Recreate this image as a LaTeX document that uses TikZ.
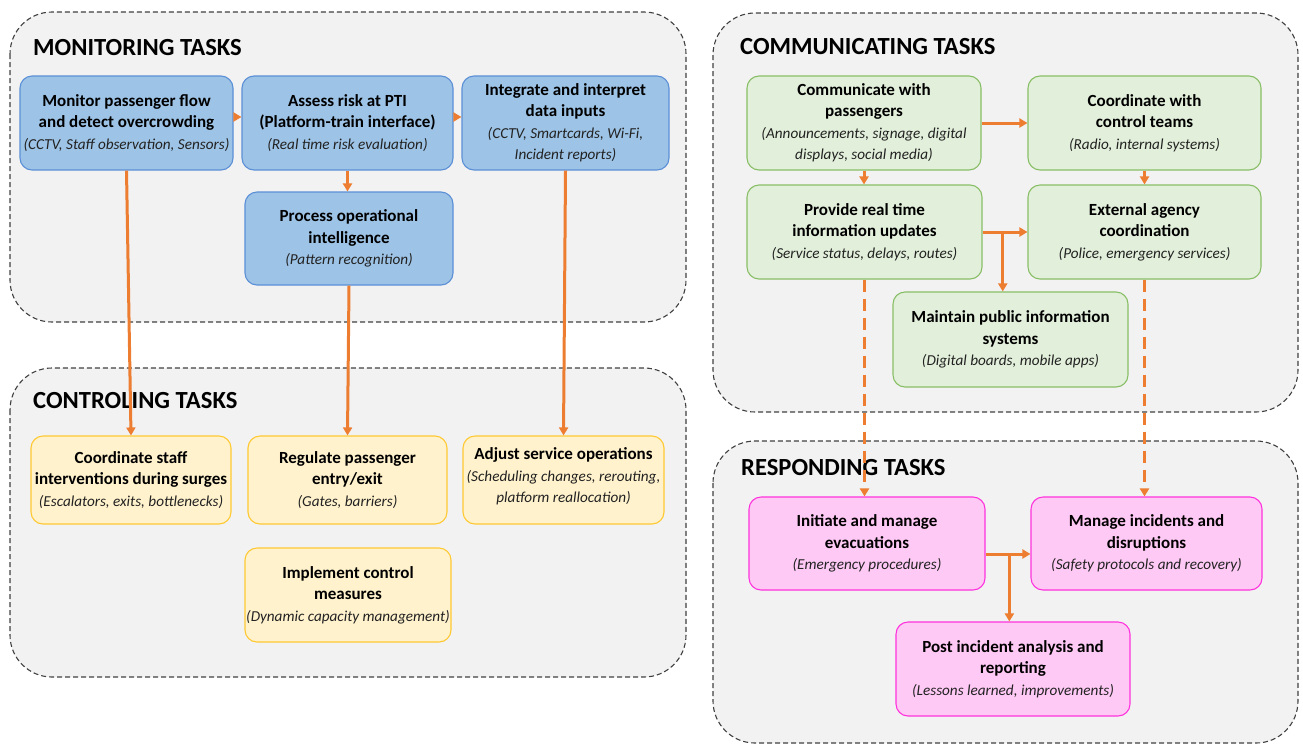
\documentclass[tikz,border=0pt]{standalone}
\usepackage{fontspec}
\setmainfont{Carlito}
\usetikzlibrary{arrows.meta,calc}

\definecolor{panelgray}{HTML}{F2F2F2}
\definecolor{panelline}{HTML}{404040}
\definecolor{blueF}{HTML}{9DC3E6}
\definecolor{blueD}{HTML}{5B8FD6}
\definecolor{yellowF}{HTML}{FFF2CC}
\definecolor{yellowD}{HTML}{FFC933}
\definecolor{greenF}{HTML}{E2EFDA}
\definecolor{greenD}{HTML}{88BE66}
\definecolor{pinkF}{HTML}{FFC9F5}
\definecolor{pinkD}{HTML}{FF33DD}
\definecolor{flow}{HTML}{ED7D31}
\definecolor{detailgray}{HTML}{222222}

\newcommand\detail[1]{{\fontsize{15.2}{20}\selectfont\mdseries\itshape\color{detailgray}#1}}

\begin{document}
\begin{tikzpicture}[x=1pt,y=-1pt,
  panel/.style={draw=panelline, fill=panelgray, line width=1.1pt,
    dash pattern=on 5pt off 3pt, rounded corners=42pt},
  paneltitle/.style={anchor=base west, inner sep=0pt,
    font=\fontsize{24.6}{28}\selectfont\bfseries},
  taskbox/.style={rectangle, rounded corners=12pt, line width=1.1pt,
    align=center, inner sep=0pt,
    font=\fontsize{17}{21.5}\selectfont\bfseries, text=black},
  bluebox/.style={taskbox, fill=blueF, draw=blueD},
  yellowbox/.style={taskbox, fill=yellowF, draw=yellowD},
  greenbox/.style={taskbox, fill=greenF, draw=greenD},
  pinkbox/.style={taskbox, fill=pinkF, draw=pinkD},
  arr/.style={draw=flow, line width=3pt, -{Triangle[length=8pt,width=9pt]}},
  darr/.style={arr, dash pattern=on 12pt off 7pt}
]
\useasboundingbox (0,0) rectangle (1303,745);

% ---- group panels ----
\draw[panel] (10,12) rectangle (686,322);
\draw[panel] (10,368) rectangle (686,677);
\draw[panel] (713,13) rectangle (1298,412);
\draw[panel] (713,441) rectangle (1298,743);

\node[paneltitle] (tmon) at (33,55) {MONITORING TASKS};
\node[paneltitle] (tcon) at (33,408) {CONTROLING TASKS};
\node[paneltitle] (tcom) at (740,54) {COMMUNICATING TASKS};
\node[paneltitle] (tres) at (741,475) {RESPONDING TASKS};

% ---- monitoring ----
\node[bluebox, minimum width=213, minimum height=94] (m1) at (126.5,123)
  {Monitor passenger flow\\and detect overcrowding\\\detail{(CCTV, Staff observation, Sensors)}};
\node[bluebox, minimum width=211, minimum height=94] (m2) at (347.5,123)
  {Assess risk at PTI\\(Platform-train interface)\\\detail{(Real time risk evaluation)}};
\node[bluebox, minimum width=207, minimum height=94] (m3) at (565.5,123)
  {Integrate and interpret\\data inputs\\\detail{(CCTV, Smartcards, Wi-Fi,}\\\detail{Incident reports)}};
\node[bluebox, minimum width=208, minimum height=93] (m4) at (349,238.5)
  {Process operational\\intelligence\\\detail{(Pattern recognition)}};

% ---- controlling ----
\node[yellowbox, minimum width=200, minimum height=88] (c1) at (131,480)
  {Coordinate staff\\interventions during surges\\\detail{(Escalators, exits, bottlenecks)}};
\node[yellowbox, minimum width=199, minimum height=88] (c2) at (347.5,480)
  {Regulate passenger\\entry/exit\\\detail{(Gates, barriers)}};
\node[yellowbox, minimum width=201, minimum height=88] (c3) at (563.5,480)
  {Adjust service operations\\\detail{(Scheduling changes, rerouting,}\\\detail{platform reallocation)}\\[-12pt]\mbox{}};
\node[yellowbox, minimum width=206, minimum height=94] (c4) at (348,595)
  {Implement control\\measures\\\detail{(Dynamic capacity management)}};

% ---- communicating ----
\node[greenbox, minimum width=234, minimum height=94] (k1) at (864,123)
  {Communicate with\\passengers\\\detail{(Announcements, signage, digital}\\\detail{displays, social media)}};
\node[greenbox, minimum width=233, minimum height=94] (k2) at (1144.5,123)
  {Coordinate with\\control teams\\\detail{(Radio, internal systems)}};
\node[greenbox, minimum width=235, minimum height=94] (k3) at (864.5,232)
  {Provide real time\\information updates\\\detail{(Service status, delays, routes)}};
\node[greenbox, minimum width=233, minimum height=94] (k4) at (1144.5,232)
  {External agency\\coordination\\\detail{(Police, emergency services)}};
\node[greenbox, minimum width=235, minimum height=95] (k5) at (1010.5,339.5)
  {Maintain public information\\systems\\\detail{(Digital boards, mobile apps)}};

% ---- responding ----
\node[pinkbox, minimum width=236, minimum height=93] (r1) at (867,543.5)
  {Initiate and manage\\evacuations\\\detail{(Emergency procedures)}};
\node[pinkbox, minimum width=231, minimum height=93] (r2) at (1146.5,543.5)
  {Manage incidents and\\disruptions\\\detail{(Safety protocols and recovery)}};
\node[pinkbox, minimum width=234, minimum height=94] (r3) at (1013,669)
  {Post incident analysis and\\reporting\\\detail{(Lessons learned, improvements)}};

% ---- connectors within monitoring ----
\draw[arr] ([yshift=6pt]m1.east) -- ([yshift=6pt]m2.west);
\draw[arr] ([yshift=6pt]m2.east) -- ([yshift=6pt]m3.west);
\draw[arr] (m2.south) -- (m2.south |- m4.north);

% ---- monitoring to controlling ----
\draw[arr] (m1.south) -- (c1.north);
\draw[arr] (m4.south) -- (c2.north);
\draw[arr] (m3.south) -- (c3.north);

% ---- communicating ----
\draw[arr] (k1.east) -- (k2.west);
\draw[arr] (k1.south) -- (k1.south |- k3.north);
\draw[arr] (k2.south) -- (k2.south |- k4.north);
\draw[arr] (k3.east) -- (k4.west);
\path (k3.east) -- (k4.west) coordinate[pos=0.45] (kj);
\draw[arr] (kj) -- (kj |- k5.north);

% ---- communicating to responding ----
\draw[darr] (k3.south) -- (k3.south |- r1.north);
\draw[darr] (k4.south) -- (k4.south |- r2.north);

% ---- responding ----
\coordinate (rs) at ([yshift=-10.5pt]r1.east);
\draw[arr] (rs) -- (rs -| r2.west);
\path (rs) -- (rs -| r2.west) coordinate[pos=0.53] (rj);
\draw[arr] (rj) -- (rj |- r3.north);
\end{tikzpicture}
\end{document}
